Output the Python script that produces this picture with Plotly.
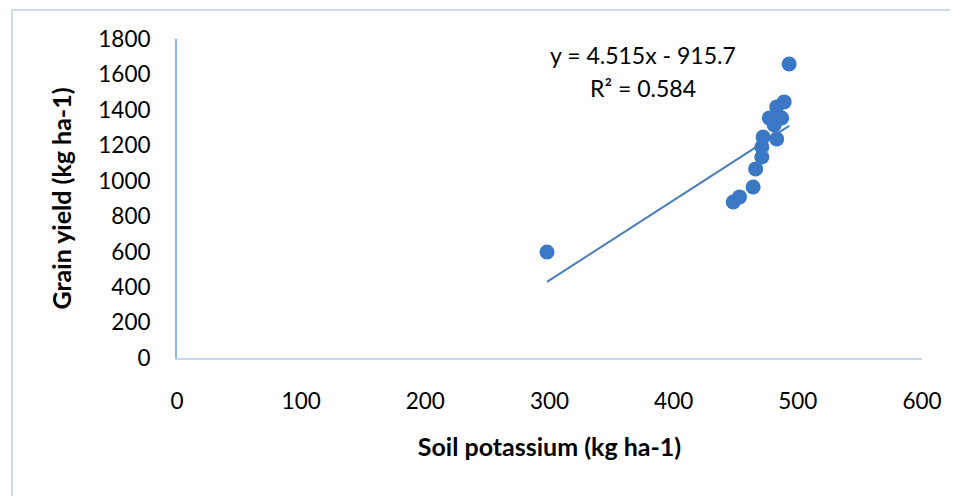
import plotly.graph_objects as go

# Data
soil_potassium = [298, 448, 453, 464, 466, 471, 471, 472, 477, 481, 483, 483, 487, 489, 493]
grain_yield = [598, 880, 909, 965, 1067, 1134, 1191, 1247, 1354, 1315, 1236, 1417, 1354, 1445, 1659]

slope = 4.515
intercept = -915.7
r_squared = 0.584

x_ticks = [0, 100, 200, 300, 400, 500, 600]
y_ticks = [0, 200, 400, 600, 800, 1000, 1200, 1400, 1600, 1800]

FONT = "Lato, Calibri, Carlito, 'Open Sans', sans-serif"
MARK = "#3a78c6"

x_lo, x_hi = min(soil_potassium), max(soil_potassium)
trend_x = [x_lo, x_hi]
trend_y = [slope * v + intercept for v in trend_x]

fig = go.Figure()
fig.add_trace(go.Scatter(
    x=trend_x, y=trend_y, mode="lines",
    line=dict(color="#4a7ebb", width=2),
    hoverinfo="skip", showlegend=False,
))
fig.add_trace(go.Scatter(
    x=soil_potassium, y=grain_yield, mode="markers",
    marker=dict(size=15, color=MARK, line=dict(width=0)),
    showlegend=False, cliponaxis=False,
))

fig.add_annotation(
    x=375, y=1710, xref="x", yref="y",
    text=f"y = {slope}x - {abs(intercept)}", showarrow=False,
    font=dict(family=FONT, size=23, color="#000000"),
)
fig.add_annotation(
    x=375, y=1524, xref="x", yref="y",
    text=f"R² = {r_squared}", showarrow=False,
    font=dict(family=FONT, size=23, color="#000000"),
)

# outer chart border
fig.add_shape(type="rect", xref="paper", yref="paper",
              x0=(12 - 177) / 745, x1=(970 - 177) / 745,
              y0=(358 - 510) / 319, y1=(358 - 10) / 319,
              line=dict(color="#c9dbf1", width=2), layer="below")

fig.update_layout(
    width=950, height=488, autosize=False,
    margin=dict(l=169, r=36, t=31, b=138),
    paper_bgcolor="white", plot_bgcolor="white",
    font=dict(family=FONT, color="#000000"),
    xaxis=dict(
        range=[0, 600], tickvals=x_ticks, ticktext=[str(v) for v in x_ticks],
        showgrid=False, zeroline=False,
        showline=True, linecolor="#c6d9f1", linewidth=2,
        ticks="", tickfont=dict(family=FONT, size=22.5),
        ticklabelstandoff=22,
        title=dict(text="<b>Soil potassium (kg ha-1)</b>", font=dict(family=FONT, size=25), standoff=25),
    ),
    yaxis=dict(
        range=[0, 1800], tickvals=y_ticks, ticktext=[str(v) for v in y_ticks],
        showgrid=False, zeroline=False,
        showline=True, linecolor="#8db3e2", linewidth=2,
        ticks="", tickfont=dict(family=FONT, size=22.5),
        ticklabelstandoff=20,
        title=dict(text="<b>Grain yield (kg ha-1)</b>", font=dict(family=FONT, size=25), standoff=20),
    ),
)

fig.write_html("out.html")
